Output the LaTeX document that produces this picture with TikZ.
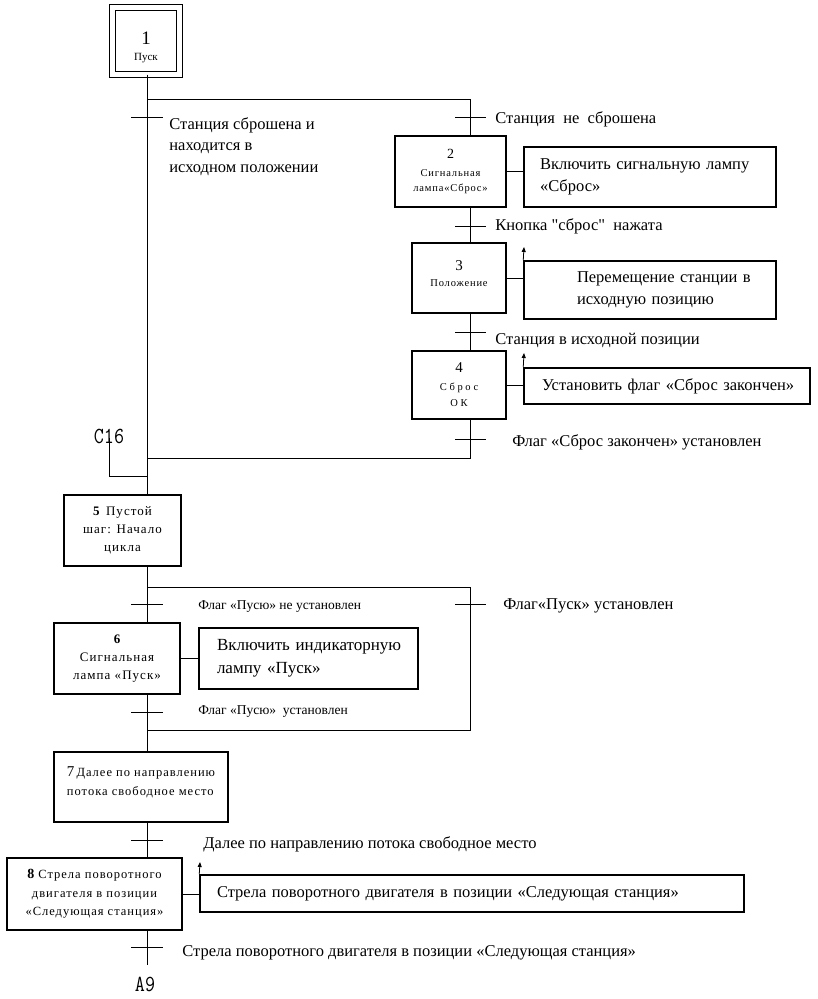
\documentclass[tikz,border=0pt]{standalone}
\usepackage{fontspec}
\setmainfont{Liberation Serif}
\newfontfamily\spc[LetterSpace=8]{Liberation Serif}
\newfontfamily\qf{Liberation Serif}
\usetikzlibrary{arrows.meta}
\newcommand{\bigf}{\fontsize{16.5}{21.5}\selectfont}
\newcommand{\smf}{\fontsize{13.5}{16}\selectfont}
\begin{document}
\begin{tikzpicture}[x=1pt,y=-1pt,line width=0.8pt,
  stepbox/.style={draw,line width=1.5pt,inner sep=0pt,align=center,fill=white},
  actbox/.style={stepbox,align=left},
  lbl/.style={anchor=west,inner sep=0pt,align=left,font=\bigf},
  slbl/.style={anchor=west,inner sep=0pt,align=left,font=\smf},
  mlbl/.style={inner sep=0pt,font=\ttfamily\fontsize{23}{23}\selectfont},
  arr/.style={-{Triangle[length=5pt,width=4pt]},line width=0.8pt}]
\useasboundingbox (0,0) rectangle (818,999);

% axis coordinates
\coordinate (mx) at (147,0);
\coordinate (rx) at (470,0);

% steps
\node[draw,line width=1pt,double,double distance=5pt,minimum width=67pt,minimum height=67pt,inner sep=0pt,align=center,
  font=\fontsize{11}{11}\selectfont] (s1) at (146,40.5)
  {\rule{0pt}{26pt}{\fontsize{19}{19}\selectfont 1}\\[5pt]Пуск};
\node[stepbox,minimum width=111pt,minimum height=71pt,font={\fontsize{10.5}{15}\selectfont\spc}] (s2) at (450.5,171.5)
  {{\fontsize{14}{14}\selectfont 2}\\[3pt]Сигнальная\\лампа«Сброс»};
\node[stepbox,minimum width=94pt,minimum height=70pt,font={\fontsize{10.5}{12}\selectfont\spc}] (s3) at (459,278)
  {{\fontsize{15}{15}\selectfont 3}\\[4pt]Положение\\[-4pt]\mbox{}};
\node[stepbox,minimum width=94pt,minimum height=68pt,font={\fontsize{10.5}{16}\selectfont\addfontfeatures{LetterSpace=25}}] (s4) at (459,385)
  {{\fontsize{15}{15}\selectfont 4}\\[2pt]Сброс\\ОК};
\node[stepbox,minimum width=117pt,minimum height=71pt,font={\fontsize{13}{18}\selectfont\spc}] (s5) at (122.5,530.5)
  {{\bfseries 5}\, Пустой\\шаг: Начало\\цикла};
\node[stepbox,minimum width=126pt,minimum height=71pt,font={\fontsize{13}{18}\selectfont\spc}] (s6) at (117,658.5)
  {{\bfseries 6}\\Сигнальная\\лампа «Пуск»};
\node[stepbox,minimum width=174pt,minimum height=70pt,align=left,font={\fontsize{12.5}{19}\selectfont\spc}] (s7) at (141,787)
  {{\fontsize{15}{19}\selectfont 7}\,Далее по направлению\\потока свободное место\\[-8pt]\mbox{}};
\node[stepbox,minimum width=175pt,minimum height=72pt,font={\fontsize{12.5}{18.5}\selectfont\spc}] (s8) at (94.5,894)
  {{\bfseries\fontsize{14}{18.5}\selectfont 8} Стрела поворотного\\двигателя в позиции\\«Следующая станция»};

% actions
\node[actbox,font=\bigf,minimum height=60pt,inner xsep=16pt,text width=220pt] (a2) at (650,177)
  {\mbox{Включить сигнальную лампу}\\«Сброс»};
\node[actbox,font=\bigf,minimum height=58pt,inner xsep=16pt,text width=220pt] (a3) at (650,290)
  {\hspace*{37pt}\mbox{Перемещение станции в}\\\hspace*{37pt}\mbox{исходную позицию}};
\node[actbox,font=\bigf,minimum height=36pt,inner xsep=18pt,text width=250pt] (a4) at (667,386)
  {\mbox{Установить флаг «Сброс закончен»}};
\node[actbox,font=\fontsize{17}{23}\selectfont,minimum height=61pt,inner xsep=18pt,text width=183pt] (a6) at (308.5,658.5)
  {\mbox{Включить индикаторную}\\\mbox{лампу «Пуск»}};
\node[actbox,font=\bigf,minimum height=37pt,inner xsep=17pt,text width=510pt] (a8) at (472,893.5)
  {\mbox{Стрела поворотного двигателя в позиции «Следующая станция»}};

% coordinates for junctions
\coordinate (j1) at (147,99);
\coordinate (j1r) at (470,99);
\coordinate (j2) at (147,458);
\coordinate (j2r) at (470,458);
\coordinate (cj) at (147,476);
\coordinate (cl) at (109,476);
\coordinate (ct) at (109,438);
\coordinate (j3) at (147,587);
\coordinate (j3r) at (470,587);
\coordinate (j4) at (147,730);
\coordinate (j4r) at (470,730);
\coordinate (endp) at (147,965);
\coordinate (ar3) at (524,247);
\coordinate (ar4) at (524,353);
\coordinate (ar8) at (200,862);

% main line
\draw (s1.south -| mx) -- (s5.north -| mx);
\draw (j1) -- (j1r) -- (s2.north -| rx);
\draw (s2.south -| rx) -- (s3.north -| rx);
\draw (s3.south -| rx) -- (s4.north -| rx);
\draw (s4.south -| rx) -- (j2r) -- (j2);
\draw (ct) -- (cl) -- (cj);
\draw (s5.south -| mx) -- (s6.north -| mx);
\draw (j3) -- (j3r) -- (j4r) -- (j4);
\draw (s6.south -| mx) -- (s7.north -| mx);
\draw (s7.south -| mx) -- (s8.north -| mx);
\draw (s8.south -| mx) -- (endp);

% actions connectors
\draw (s2.east) -- (s2.east -| a2.west);
\draw (s3.east) -- (s3.east -| a3.west);
\draw (s4.east) -- (s4.east -| a4.west);
\draw (s6.east) -- (s6.east -| a6.west);
\draw (s8.east) -- (s8.east -| a8.west);
\draw[arr] (a3.north west) -- (ar3);
\draw[arr] (a4.north west) -- (ar4);
\draw[arr] (a8.north west) -- (ar8);

% transitions (ticks)
\foreach \y in {117,604,712,840,947} \draw (131,\y) -- (163,\y);
\foreach \y in {117,226,332,439,604} \draw (455,\y) -- (486,\y);

% labels
\node[lbl] (l1) at (169,146.5) {Станция сброшена и\\находится в\\исходном положении};
\node[lbl] (l2) at (495,119) {Станция~ не~ сброшена};
\node[lbl,font={\bigf\qf}] (l3) at (495,226) {Кнопка "сброс"~ нажата};
\node[lbl] (l4) at (495,340) {Станция в исходной позиции};
\node[lbl] (l5) at (512,442) {Флаг «Сброс закончен» установлен};
\node[slbl] (l6) at (198,607) {Флаг «Пусю» не установлен};
\node[lbl] (l7) at (503,606) {Флаг«Пуск» установлен};
\node[slbl] (l8) at (198,712) {Флаг «Пусю»~ установлен};
\node[lbl] (l9) at (203,844) {Далее по направлению потока свободное место};
\node[lbl] (l10) at (182,953) {Стрела поворотного двигателя в позиции «Следующая станция»};
\node[mlbl] (c16) at (109,436) {\scalebox{0.85}[1]{C16}};
\node[mlbl] (a9) at (145,984) {\scalebox{0.85}[1]{A9}};
\end{tikzpicture}
\end{document}
